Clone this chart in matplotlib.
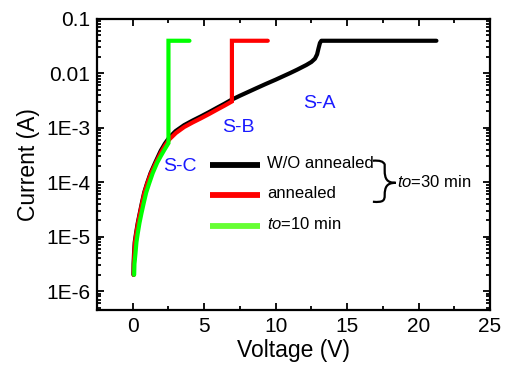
import matplotlib
matplotlib.use("Agg")
import matplotlib.pyplot as plt
import numpy as np
from matplotlib.lines import Line2D
from matplotlib.path import Path
from matplotlib.patches import PathPatch
from matplotlib.ticker import LogLocator, MultipleLocator, NullFormatter

plt.rcParams['font.family'] = ['Liberation Sans', 'DejaVu Sans']
plt.rcParams['mathtext.fontset'] = 'custom'
plt.rcParams['mathtext.rm'] = 'Liberation Sans'
plt.rcParams['mathtext.it'] = 'Liberation Sans:italic'

# ---- data (current given as log10 of amperes) ----
v_black = [0.05, 0.06, 0.09, 0.14, 0.23, 0.35, 0.49, 0.64, 0.80, 1.00, 1.25,
           1.57, 1.96, 2.25, 2.55, 3.0, 3.6, 4.2, 4.77, 5.35, 5.94, 6.4, 6.87,
           7.5, 8.0, 8.65, 9.3, 10.0, 10.5, 11.0, 11.5, 12.15, 12.5, 12.75,
           12.9, 13.0, 13.1, 13.2, 16.0, 21.25]
log_i_black = [-5.70, -5.50, -5.31, -5.10, -4.94, -4.75, -4.57, -4.38, -4.19,
               -4.02, -3.83, -3.64, -3.42, -3.29, -3.18, -3.06, -2.95, -2.865,
               -2.79, -2.71, -2.625, -2.56, -2.49, -2.41, -2.35, -2.272, -2.195,
               -2.115, -2.055, -1.995, -1.932, -1.845, -1.79, -1.73, -1.65,
               -1.54, -1.44, -1.40, -1.40, -1.40]

v_red = [0.07, 0.08, 0.11, 0.16, 0.25, 0.37, 0.51, 0.66, 0.82, 1.02, 1.27,
         1.59, 1.98, 2.27, 2.57, 3.02, 3.6, 4.2, 4.77, 5.35, 5.94, 6.4, 6.94,
         6.94, 9.45]
log_i_red = [-5.70, -5.50, -5.31, -5.10, -4.94, -4.75, -4.57, -4.38, -4.19,
             -4.02, -3.84, -3.66, -3.45, -3.32, -3.21, -3.095, -2.985, -2.90,
             -2.825, -2.745, -2.66, -2.595, -2.515, -1.40, -1.40]

v_green = [0.10, 0.12, 0.19, 0.26, 0.35, 0.47, 0.61, 0.77, 0.94, 1.15, 1.40,
           1.71, 1.96, 2.20, 2.50, 2.50, 3.97]
log_i_green = [-5.70, -5.50, -5.31, -5.10, -4.94, -4.75, -4.57, -4.38, -4.19,
               -4.02, -3.83, -3.64, -3.52, -3.41, -3.28, -1.40, -1.40]

y_ticks = [1e-6, 1e-5, 1e-4, 1e-3, 1e-2, 1e-1]
y_labels = ["1E-6", "1E-5", "1E-4", "1E-3", "0.01", "0.1"]
legend_labels = ["W/O annealed", "annealed", "$\\it{to}$=10 min"]

i_black = np.power(10.0, log_i_black)
i_red = np.power(10.0, log_i_red)
i_green = np.power(10.0, log_i_green)

# ---- figure ----
fig = plt.figure(figsize=(5.06, 3.68), dpi=100)
ax = fig.add_axes([0.1917, 0.1576, 0.7767, 0.7908])

lw = 3.0
ax.plot(v_black, i_black, color='black', lw=lw, solid_capstyle='round',
        solid_joinstyle='round', zorder=3)
ax.plot(v_red, i_red, color='#ff0000', lw=lw, solid_capstyle='round',
        solid_joinstyle='miter', zorder=4)
ax.plot(v_green, i_green, color='#00ff00', lw=lw, solid_capstyle='round',
        solid_joinstyle='miter', zorder=5)

ax.set_yscale('log')
ax.set_xlim(-2.5, 25)
ax.set_ylim(4.5e-7, 0.1)
ax.set_yticks(y_ticks)
ax.set_yticklabels(y_labels)
ax.yaxis.set_minor_locator(LogLocator(base=10, subs=range(2, 10), numticks=20))
ax.yaxis.set_minor_formatter(NullFormatter())
ax.xaxis.set_major_locator(MultipleLocator(5))
ax.xaxis.set_minor_locator(MultipleLocator(2.5))

ax.tick_params(which='both', direction='in', top=True, right=True, width=1.3)
ax.tick_params(which='major', length=5, labelsize=15, pad=5)
ax.tick_params(which='minor', length=3)
for s in ax.spines.values():
    s.set_linewidth(1.6)

ax.set_xlabel("Voltage (V)", fontsize=16.5, labelpad=2)
ax.set_ylabel("Current (A)", fontsize=16.5, labelpad=4)

# region labels
blue = '#1a1aff'
ax.text(0.567, 0.710, "S-A", color=blue, fontsize=14, transform=ax.transAxes, ha='center', va='center')
ax.text(0.360, 0.627, "S-B", color=blue, fontsize=14, transform=ax.transAxes, ha='center', va='center')
ax.text(0.211, 0.493, "S-C", color=blue, fontsize=14, transform=ax.transAxes, ha='center', va='center')

# legend (manual)
leg_colors = ['black', '#ff0000', '#66ff33']
leg_y = [0.498, 0.395, 0.290]
for c, yy, lab in zip(leg_colors, leg_y, legend_labels):
    ax.add_line(Line2D([0.2875, 0.4148], [yy, yy], color=c, lw=4.2, transform=ax.transAxes,
                       solid_capstyle='butt'))
    ax.text(0.432, yy + 0.005, lab, fontsize=12, transform=ax.transAxes, ha='left', va='center')

# brace
verts = [(0.702, 0.513), (0.728, 0.516), (0.732, 0.500), (0.732, 0.480),
         (0.732, 0.450), (0.738, 0.437), (0.760, 0.437),
         (0.738, 0.437), (0.732, 0.424), (0.732, 0.394),
         (0.732, 0.376), (0.728, 0.369), (0.702, 0.372)]
codes = [Path.MOVETO, Path.CURVE3, Path.CURVE3, Path.LINETO,
         Path.CURVE4, Path.CURVE4, Path.CURVE4,
         Path.CURVE4, Path.CURVE4, Path.CURVE4,
         Path.CURVE4, Path.CURVE4, Path.CURVE4]
ax.add_patch(PathPatch(Path(verts, codes), fill=False, lw=1.6, edgecolor='black',
                       transform=ax.transAxes, clip_on=False))
ax.text(0.764, 0.440, "$\\it{to}$=30 min", fontsize=12, transform=ax.transAxes,
        ha='left', va='center')

fig.savefig("out.png", dpi=100)
